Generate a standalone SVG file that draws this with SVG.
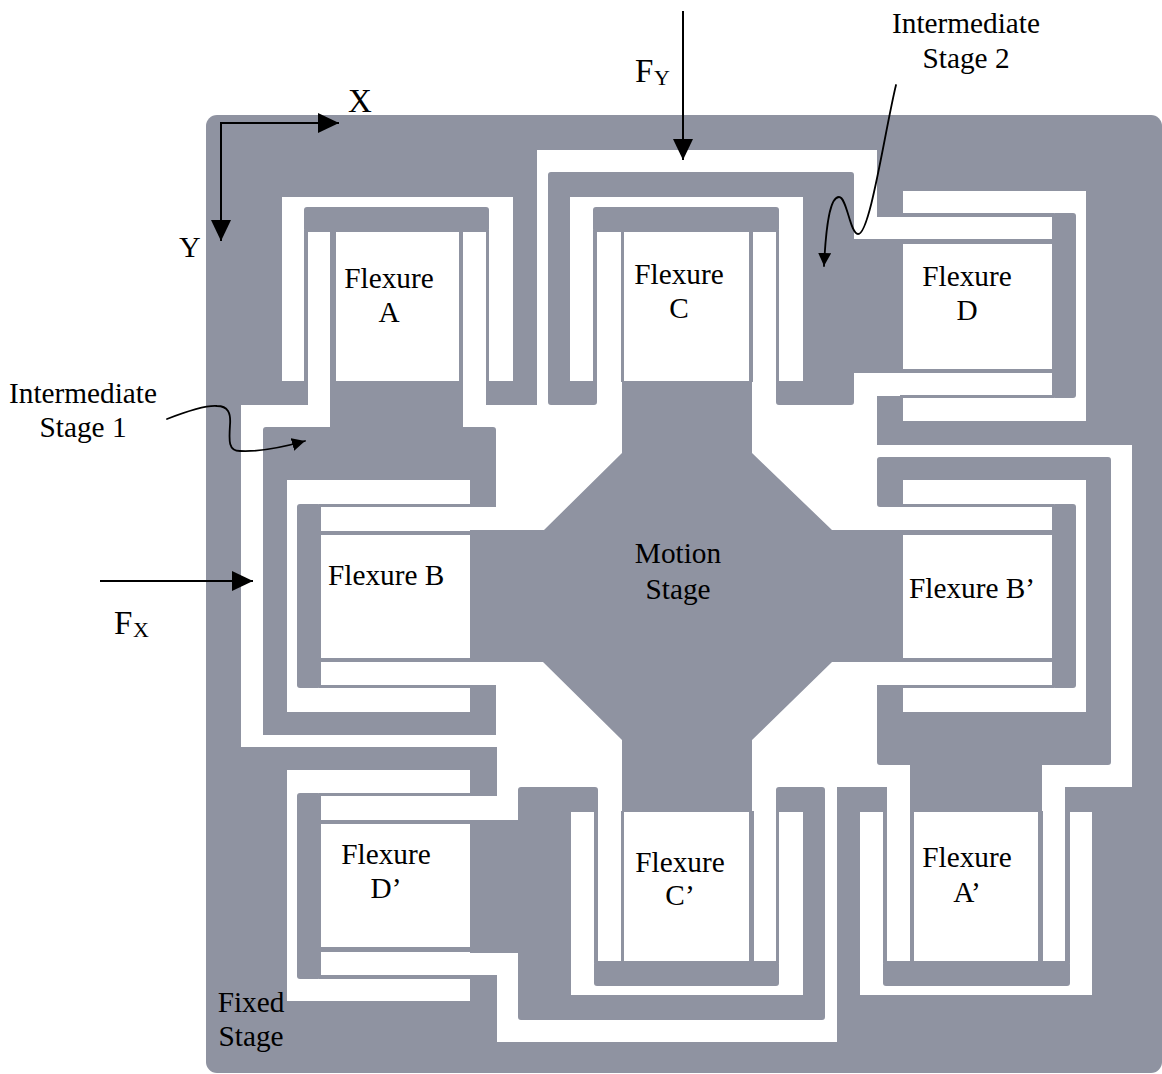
<svg xmlns="http://www.w3.org/2000/svg" width="1162" height="1074" viewBox="0 0 1162 1074">
<defs>
<filter id="soft" filterUnits="userSpaceOnUse" x="0" y="0" width="1162" height="1074"><feGaussianBlur stdDeviation="0.7"/></filter>
<marker id="big" markerUnits="userSpaceOnUse" markerWidth="22" markerHeight="22" refX="21" refY="10" orient="auto"><path d="M0 0L21 10L0 20Z" fill="#000"/></marker>
<marker id="small" markerUnits="userSpaceOnUse" markerWidth="14" markerHeight="14" refX="13" refY="6.5" orient="auto"><path d="M0 0L13 6.5L0 13Z" fill="#000"/></marker>
</defs>
<style>
.g{fill:#8f93a1}
.w{fill:#fff}
.soft{filter:url(#soft)}
text{font-family:"Liberation Serif","Times New Roman",serif;font-size:29.3px;fill:#000}
.m{text-anchor:middle}
.big{font-size:33px}
.sub{font-size:22px}
.line{fill:none;stroke:#000;stroke-width:2}
.thin{fill:none;stroke:#000;stroke-width:1.8;stroke-linecap:round}
</style>
<rect width="1162" height="1074" class="w"/>
<g id="fixed-stage">
<g class="soft">
<rect class="g" x="206" y="115" width="956" height="958" rx="11"/>
<path class="w" d="M241 747V405H308V381H282V197H513V381H486V405H537V150H877V217H903V191H1086V421H903V396H877V445H1132V787H1065V812H1092V995H860V812H887V787H837V1042H497V975H470V1001H287V770H470V796H497V747Z"/>
</g>
<text x="251" y="1012" class="m">Fixed</text>
<text x="251" y="1046" class="m">Stage</text>
</g>
<g id="intermediate-stage-1"><path class="g soft" d="M330 381H463V427H493Q496 427 496 430V507H470V480H287V712H470V685H496V735H263V430Q263 427 266 427H330Z"/></g>
<g id="intermediate-stage-2"><path class="g soft" d="M551 172H851Q854 172 854 175V240H903V373H854V402Q854 405 851 405H779Q776 405 776 402V381H803V197H570V381H597V402Q597 405 594 405H551Q548 405 548 402V175Q548 172 551 172Z"/></g>
<g id="intermediate-stage-1-prime"><path class="g soft" d="M880 457H1108Q1111 457 1111 460V762Q1111 765 1108 765H1042V812H910V765H880Q877 765 877 762V685H903V712H1086V480H903V507H880Q877 507 877 504V460Q877 457 880 457Z"/></g>
<g id="intermediate-stage-2-prime"><path class="g soft" d="M521 787H595Q598 787 598 790V812H571V995H803V812H776V790Q776 787 779 787H822Q825 787 825 790V1017Q825 1020 822 1020H521Q518 1020 518 1017V953H470V820H518V790Q518 787 521 787Z"/></g>
<g id="motion-stage">
<path class="g soft" d="M622 381H752V453L832 530H903V662H832L752 740V812H622V740L543 662H470V530H544L622 453Z"/>
<text x="678" y="563" class="m">Motion</text>
<text x="678" y="599" class="m">Stage</text>
</g>
<g id="flexure-a">
<g class="g soft"><rect x="304" y="207" width="185" height="25" rx="3"/><rect x="304" y="230" width="4" height="152"/><rect x="330" y="230" width="6" height="152"/><rect x="459" y="230" width="4" height="152"/><rect x="486" y="230" width="3" height="152"/></g>
<text x="389" y="288" class="m">Flexure</text><text x="389" y="322" class="m">A</text>
</g>
<g id="flexure-c">
<g class="g soft"><rect x="593" y="207" width="186" height="25" rx="3"/><rect x="593" y="230" width="4" height="152"/><rect x="621" y="230" width="3" height="152"/><rect x="749" y="230" width="4" height="152"/><rect x="776" y="230" width="3" height="152"/></g>
<text x="679" y="284" class="m">Flexure</text><text x="679" y="318" class="m">C</text>
</g>
<g id="flexure-d">
<g class="g soft"><rect x="1052" y="213" width="24" height="185" rx="3"/><rect x="900" y="213" width="154" height="4"/><rect x="854" y="239" width="200" height="5"/><rect x="854" y="369" width="200" height="4"/><rect x="900" y="395" width="154" height="3"/></g>
<text x="967" y="286" class="m">Flexure</text><text x="967" y="320" class="m">D</text>
</g>
<g id="flexure-b">
<g class="g soft"><rect x="297" y="504" width="24" height="184" rx="3"/><rect x="319" y="504" width="153" height="3"/><rect x="319" y="531" width="153" height="4"/><rect x="319" y="658" width="153" height="4"/><rect x="319" y="685" width="153" height="3"/></g>
<text x="328" y="585">Flexure B</text>
</g>
<g id="flexure-b-prime">
<g class="g soft"><rect x="1052" y="504" width="24" height="184" rx="3"/><rect x="900" y="504" width="154" height="3"/><rect x="900" y="530" width="154" height="5"/><rect x="900" y="658" width="154" height="4"/><rect x="900" y="685" width="154" height="3"/></g>
<text x="909" y="598">Flexure B’</text>
</g>
<g id="flexure-d-prime">
<g class="g soft"><rect x="297" y="793" width="24" height="186" rx="3"/><rect x="319" y="793" width="153" height="3"/><rect x="319" y="820" width="153" height="4"/><rect x="319" y="947" width="153" height="5"/><rect x="319" y="975" width="153" height="4"/></g>
<text x="386" y="864" class="m">Flexure</text><text x="386" y="898" class="m">D’</text>
</g>
<g id="flexure-c-prime">
<g class="g soft"><rect x="594" y="961" width="185" height="25" rx="3"/><rect x="594" y="811" width="4" height="152"/><rect x="621" y="811" width="3" height="152"/><rect x="749" y="811" width="5" height="152"/><rect x="776" y="811" width="3" height="152"/></g>
<text x="680" y="872" class="m">Flexure</text><text x="680" y="905" class="m">C’</text>
</g>
<g id="flexure-a-prime">
<g class="g soft"><rect x="883" y="961" width="187" height="25" rx="3"/><rect x="883" y="811" width="4" height="152"/><rect x="910" y="811" width="4" height="152"/><rect x="1038" y="811" width="5" height="152"/><rect x="1065" y="811" width="5" height="152"/></g>
<text x="967" y="867" class="m">Flexure</text><text x="967" y="902" class="m">A’</text>
</g>
<g id="labels">
<text x="83" y="403" class="m">Intermediate</text><text x="83" y="437" class="m">Stage 1</text>
<text x="966" y="33" class="m">Intermediate</text><text x="966" y="68" class="m">Stage 2</text>
<text x="348" y="112" class="big">X</text>
<text x="179" y="257" style="font-size:30px">Y</text>
<text x="635" y="82" class="big">F</text><text x="654" y="85" class="sub">Y</text>
<text x="114" y="634" class="big">F</text><text x="133" y="637" class="sub">X</text>
</g>
<g id="connectors">
<path class="line" d="M221 123H339" marker-end="url(#big)"/>
<path class="line" d="M221 122V241" marker-end="url(#big)"/>
<path class="line" d="M683 11V160" marker-end="url(#big)"/>
<path class="line" d="M100 581H253" marker-end="url(#big)"/>
<path class="thin" d="M896 85C885 130 870 235 858 234C850 234 847 197 839 197C830 197 826 225 824 266" marker-end="url(#small)"/>
<path class="thin" d="M167 419C185 412 205 405 217 406C228 406 231 413 230 425C229 440 228 451 240 451C258 452 280 448 305 441" marker-end="url(#small)"/>
</g>
</svg>
